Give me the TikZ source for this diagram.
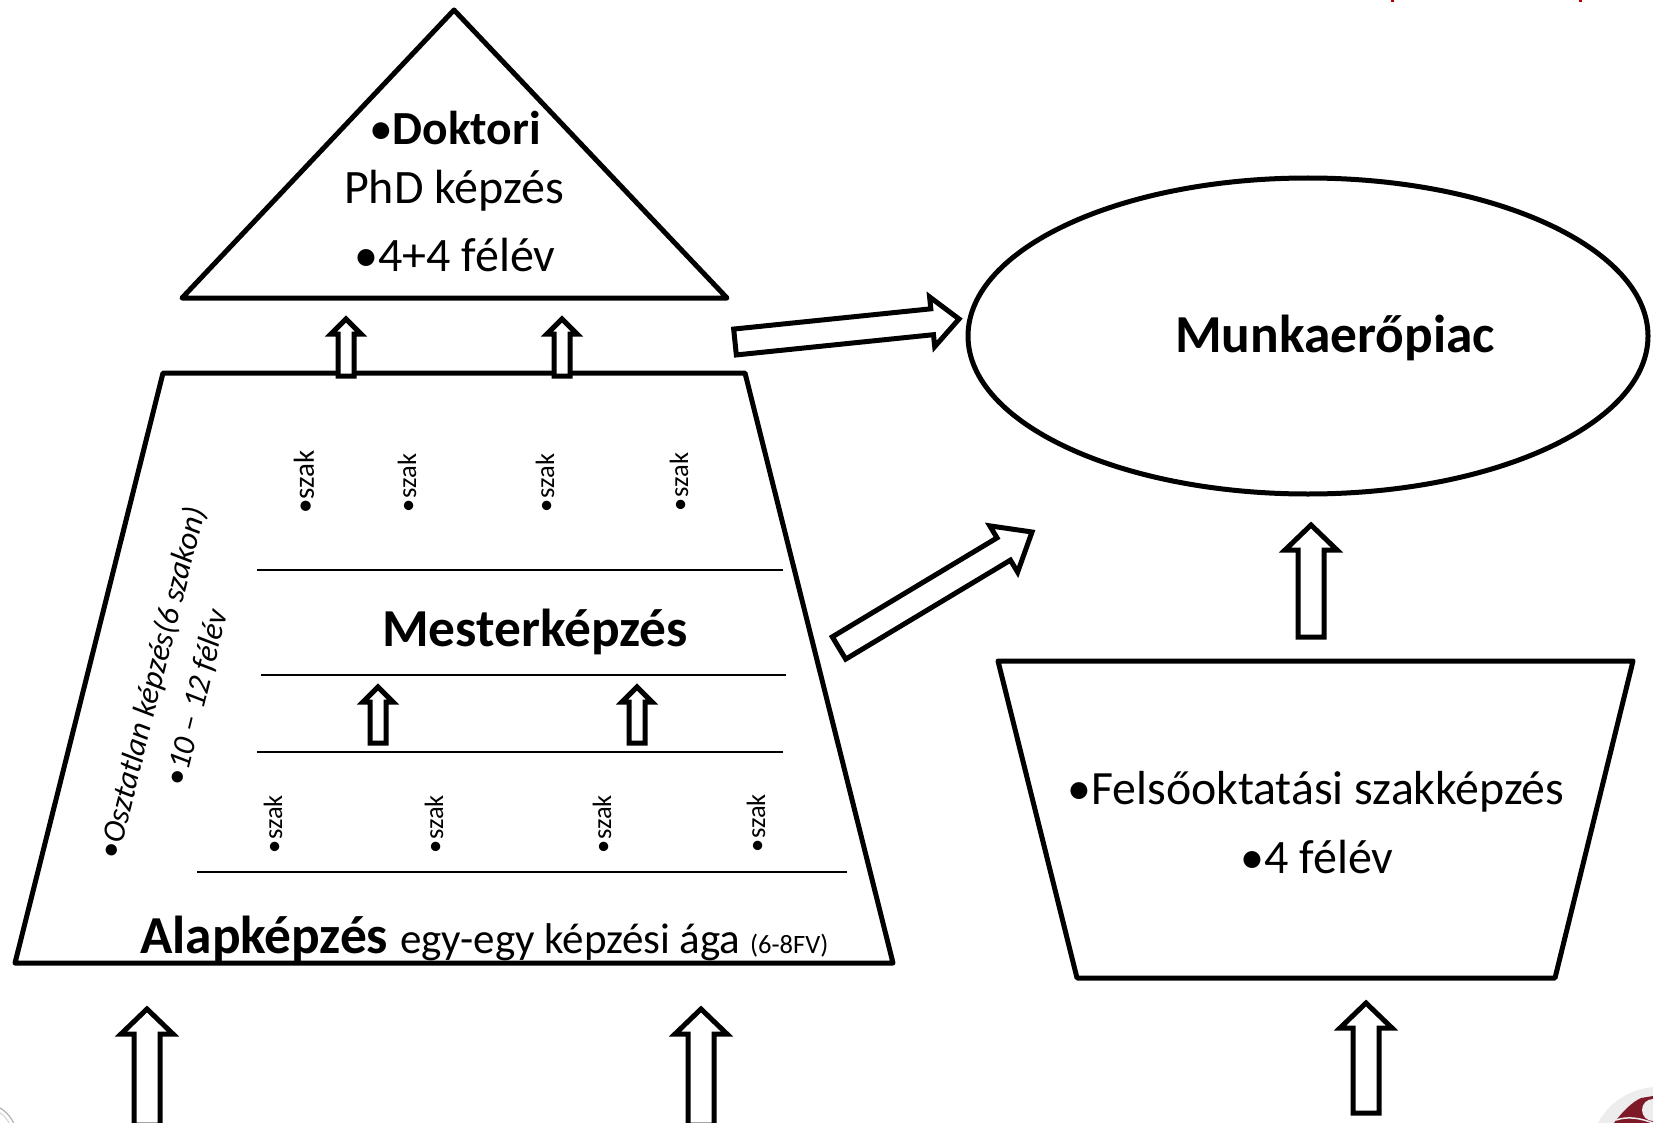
\documentclass[tikz,border=0pt]{standalone}
\usepackage{fontspec}
\setmainfont{Carlito}
\usetikzlibrary{calc}
\definecolor{maroon}{HTML}{7E1A28}
\newcommand{\fs}[1]{\fontsize{#1}{#1}\selectfont}
\tikzset{
  shapeline/.style={draw=black,line width=5pt,line join=round,fill=white},
  divider/.style={draw=black,line width=2pt},
  lbl/.style={anchor=base,inner sep=0pt,text=black},
  szakside/.style={inner sep=0pt,text=black,rotate=90},
  itside/.style={inner sep=0pt,text=black,rotate=76,font=\fs{32}\itshape},
}
% \blockarrow{name}{tail}{tip}{half shaft}{half head}{head length}{line width}
\newcommand{\blockarrow}[7]{%
  \coordinate (#1a) at (#2);
  \coordinate (#1b) at (#3);
  \coordinate (#1h) at ($(#1b)!#6pt!(#1a)$);
  \draw[draw=black,fill=white,line width=#7pt,line join=miter,miter limit=10]
    ($(#1a)!#4pt!90:(#1b)$) -- ($(#1h)!#4pt!-90:(#1a)$) -- ($(#1h)!#5pt!-90:(#1a)$) --
    (#1b) -- ($(#1h)!#5pt!90:(#1a)$) -- ($(#1h)!#4pt!90:(#1a)$) -- ($(#1a)!#4pt!-90:(#1b)$) -- cycle;
}
\begin{document}
\begin{tikzpicture}[x=1pt,y=-1pt]
\useasboundingbox (0,0) rectangle (1653,1123);
\clip (0,0) rectangle (1653,1123);
\fill[white] (0,0) rectangle (1653,1123);

% cropped remains at the edges
\fill[red!70!black] (1391,0) rectangle (1394,2);
\fill[red!70!black] (1579,0) rectangle (1582,2);
\draw[gray!60,line width=1.2pt] (-18,1138) circle[radius=35];
\draw[gray!35,line width=1pt] (-18,1138) circle[radius=31];
\fill[black!7] (1658,1155) circle[radius=68];
\fill[maroon] (1614,1123) .. controls (1622,1112) and (1632,1102) .. (1641,1098) -- (1653,1096) -- (1653,1123) -- cycle;
\fill[black!7] (1653,1110) circle[radius=11];
\draw[black!7,line width=1.5pt] (1616,1120) .. controls (1628,1116) and (1640,1118) .. (1653,1123);

% main shapes
\draw[shapeline] (454,10) -- (727,298) -- (182,298) -- cycle;
\draw[shapeline] (163,373) -- (745,373) -- (893,963) -- (15,963) -- cycle;
\draw[shapeline] (1308,336) ellipse[x radius=340,y radius=158];
\draw[shapeline] (998,661) -- (1633,661) -- (1555,978) -- (1077,978) -- cycle;

% dividers
\coordinate (d1a) at (257,569.5); \coordinate (d1b) at (783,569.5);
\coordinate (d2a) at (261,675); \coordinate (d2b) at (786,675);
\coordinate (d3a) at (257,752); \coordinate (d3b) at (783,752);
\coordinate (d4a) at (197,872); \coordinate (d4b) at (847,872);
\draw[divider] (d1a) -- (d1b);
\draw[divider] (d2a) -- (d2b);
\draw[divider] (d3a) -- (d3b);
\draw[divider] (d4a) -- (d4b);

% arrows
\blockarrow{up1}{147,1125}{147,1009}{13}{26}{25}{5}
\blockarrow{up2}{701,1125}{701,1009}{13}{26}{25}{5}
\blockarrow{up3}{1366,1113}{1366,1003}{13}{26}{25}{5}
\blockarrow{up4}{1311,637}{1311,525}{13}{26}{25}{5}
\blockarrow{sm1}{346,376}{346,319}{8}{15}{15}{5}
\blockarrow{sm2}{562,376}{562,319}{8}{15}{15}{5}
\blockarrow{sm3}{378,743}{378,687}{8}{15}{15}{5}
\blockarrow{sm4}{637,743}{637,687}{8}{15}{15}{5}
\blockarrow{di1}{735,342}{959,319}{13}{25}{27}{5}
\blockarrow{di2}{839,648}{1032,532}{13}{27}{33}{5}

% labels
\node[lbl,font=\fs{47.5}] (dok) at (455,145) {•\textbf{Doktori}};
\node[lbl,font=\fs{48}] (phd) at (454,204) {PhD képzés};
\node[lbl,font=\fs{48}] (fel) at (455,272) {•4+4 félév};
\node[lbl,font=\fs{53.4}\bfseries] (munka) at (1335,352) {Munkaerőpiac};
\node[lbl,font=\fs{53.4}\bfseries] (mester) at (535,646) {Mesterképzés};
\node[lbl,anchor=base west] (alap) at (140,953) {\fs{53.4}\textbf{Alapképzés} \fs{43}egy-egy képzési ága \fs{26.5}(6-8FV)};
\node[lbl,font=\fs{47.8}] (felso) at (1316,804) {•Felsőoktatási szakképzés};
\node[lbl,font=\fs{48}] (negy) at (1317,873) {•4 félév};

\node[szakside,font=\fs{29}] (s1) at (304,482) {•szak};
\node[szakside,font=\fs{26.5}] (s2) at (407,483) {•szak};
\node[szakside,font=\fs{26.5}] (s3) at (545,483) {•szak};
\node[szakside,font=\fs{26.5}] (s4) at (679,482) {•szak};
\node[szakside,font=\fs{26.5}] (s5) at (273,824) {•szak};
\node[szakside,font=\fs{26.5}] (s6) at (434,824) {•szak};
\node[szakside,font=\fs{26.5}] (s7) at (602,824) {•szak};
\node[szakside,font=\fs{26.5}] (s8) at (756,823) {•szak};

\node[itside] (osz) at (153,683) {•Osztatlan képzés(6 szakon)};
\node[itside] (tiz) at (197,698) {•10 – 12 félév};
\end{tikzpicture}
\end{document}
